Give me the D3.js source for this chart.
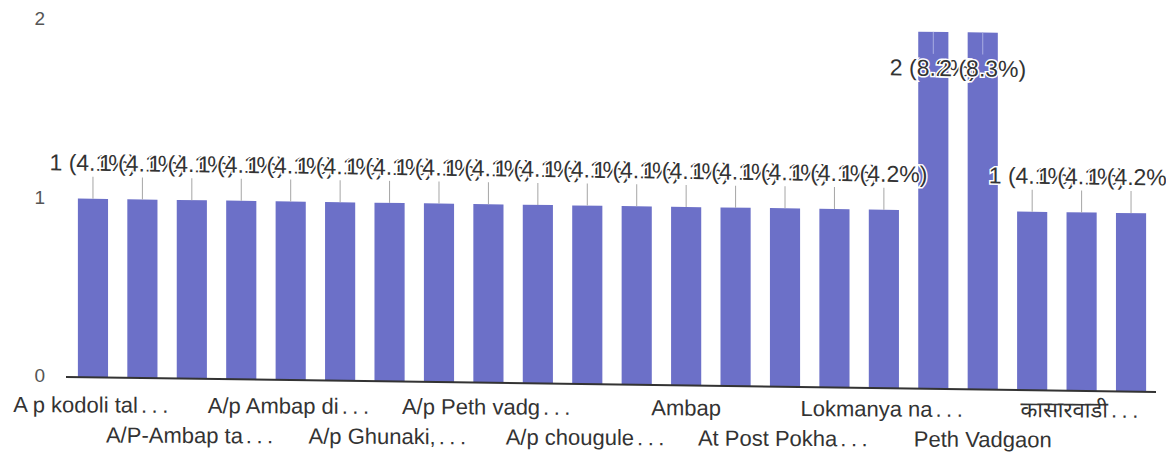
<!DOCTYPE html>
<html>
<head>
<meta charset="utf-8">
<script src="https://cdn.jsdelivr.net/npm/d3@7"></script>
<style>
  html, body { margin: 0; padding: 0; background: #fff; }
  svg { display: block; }
  text { font-family: "Liberation Sans", Arial, "Noto Sans", sans-serif; }
</style>
</head>
<body>
<div id="chart"></div>
<script>
// Responses per location (only every second axis label is shown by the chart)
const categories = [
  "A p kodoli tal…", "", "A/P-Ambap ta…", "", "A/p Ambap di…", "",
  "A/p Ghunaki,…", "", "A/p Peth vadg…", "", "A/p chougule…", "",
  "Ambap", "", "At Post Pokha…", "", "Lokmanya na…", "",
  "Peth Vadgaon", "", "कासारवाडी…", ""
];
const counts = [1, 1, 1, 1, 1, 1, 1, 1, 1, 1, 1, 1, 1, 1, 1, 1, 1, 2, 2, 1, 1, 1];
const percents = [
  "4.1%", "4.1%", "4.1%", "4.1%", "4.1%", "4.1%", "4.1%", "4.1%",
  "4.1%", "4.1%", "4.1%", "4.1%", "4.1%", "4.1%", "4.1%", "4.1%",
  "4.2%", "8.2%", "8.3%", "4.1%", "4.1%", "4.2%"
];
const yTicks = [0, 1, 2];

const W = 1166, H = 464;
const svg = d3.select("#chart").append("svg")
  .attr("width", W).attr("height", H);

const x = d3.scaleBand()
  .domain(d3.range(categories.length))
  .range([68, 1156])
  .paddingInner(0.39)
  .paddingOuter(0.2);

const y = d3.scaleLinear().domain([0, 2]).range([376, 19]);

const barColor = "#6c70c8";
const textColor = "#333";

// y-axis tick labels
const yAxis = d3.axisLeft(y).tickValues(yTicks).tickFormat(d3.format("d")).tickSize(0);
const yG = svg.append("g").attr("transform", "translate(45,0)").call(yAxis);
yG.select(".domain").remove();
yG.selectAll("text")
  .attr("x", 0).attr("dy", "0.3em")
  .attr("fill", "#555")
  .style("font-size", "19px")
  .style("font-family", "'Liberation Sans', Arial, sans-serif");

// plot area, slightly skewed as on the printed page
const plot = svg.append("g").attr("transform", "skewY(0.79)");

plot.selectAll("rect.bar")
  .data(counts)
  .join("rect")
  .attr("class", "bar")
  .attr("x", (d, i) => x(i))
  .attr("width", x.bandwidth())
  .attr("y", d => y(d))
  .attr("height", d => y(0) - y(d))
  .attr("fill", barColor);

// baseline
plot.append("line")
  .attr("x1", 66).attr("x2", 1156)
  .attr("y1", y(0)).attr("y2", y(0))
  .attr("stroke", "#333").attr("stroke-width", 2);

// value annotations with stems
const inside = d => y(d) - 30 < 40;
const cx = i => x(i) + x.bandwidth() / 2;

plot.selectAll("line.stem")
  .data(counts)
  .join("line")
  .attr("class", "stem")
  .attr("x1", (d, i) => cx(i)).attr("x2", (d, i) => cx(i))
  .attr("y1", d => inside(d) ? y(d) : y(d) - 22)
  .attr("y2", d => inside(d) ? y(d) + 22 : y(d))
  .attr("stroke", d => inside(d) ? "#a9ace3" : "#a5a5a5")
  .attr("stroke-width", 1);

plot.selectAll("text.value")
  .data(counts)
  .join("text")
  .attr("class", "value")
  .attr("x", (d, i) => cx(i))
  .attr("y", d => inside(d) ? y(d) + 44 : y(d) - 28)
  .attr("text-anchor", "middle")
  .attr("fill", textColor)
  .attr("stroke", "#fff")
  .attr("stroke-width", 3)
  .attr("paint-order", "stroke")
  .style("font-size", "23px")
  .text((d, i) => `${d} (${percents[i]})`);

// x-axis labels, staggered on two rows; truncation dots drawn spaced out
const xAxis = d3.axisBottom(x).tickSize(0).tickFormat(() => "");
const xG = svg.append("g")
  .attr("transform", "skewY(0.29)")
  .append("g")
  .attr("transform", `translate(0,${y(0)})`)
  .call(xAxis);
xG.select(".domain").remove();
xG.selectAll(".tick text").each(function (i) {
  const label = categories[i];
  const t = d3.select(this)
    .attr("y", ((i / 2) % 2) === 0 ? 36 : 66)
    .attr("dy", 0)
    .attr("fill", textColor)
    .style("font-size", "22px")
    .style("font-family", "'Liberation Sans', Arial, 'Noto Sans', sans-serif");
  if (label.endsWith("…")) {
    t.append("tspan").text(label.slice(0, -1));
    t.append("tspan").attr("dx", 3).style("letter-spacing", "4.5px").text("...");
  } else {
    t.text(label);
  }
});
</script>
</body>
</html>
